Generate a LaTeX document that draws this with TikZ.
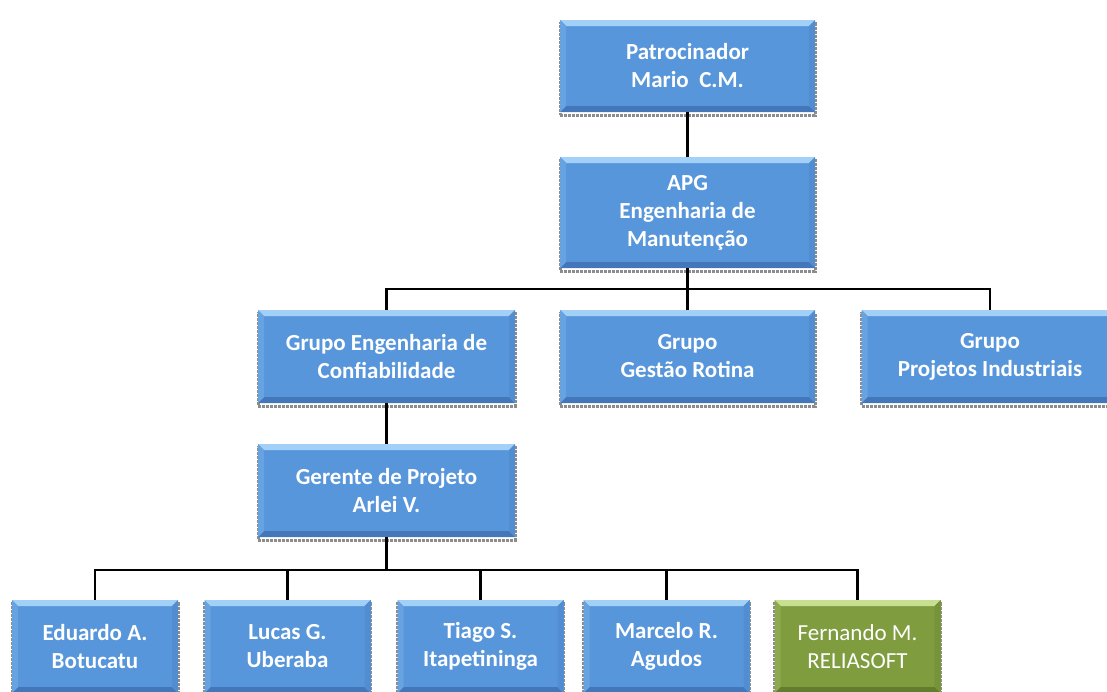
\documentclass[tikz,border=0pt]{standalone}
\usepackage{fontspec}
\setmainfont{Carlito}
\usepackage{tikz}
\usetikzlibrary{calc}
\definecolor{boxblue}{HTML}{5896DC}
\definecolor{boxbluelight}{HTML}{A3D0F6}
\definecolor{boxbluedark}{HTML}{4477BA}
\definecolor{boxgreen}{HTML}{7F9C3F}
\definecolor{boxgreenlight}{HTML}{C7DF90}
\definecolor{boxgreendark}{HTML}{627D2D}
\definecolor{shadowgray}{HTML}{8C8C8C}

% bevelled face, drawn inside the node
\tikzset{
  bevel/.style n args={3}{
    path picture={
      \fill[#2] (path picture bounding box.north west) -- (path picture bounding box.north east)
        -- ([xshift=-6pt,yshift=-6pt]path picture bounding box.north east)
        -- ([xshift=6pt,yshift=-6pt]path picture bounding box.north west) -- cycle;
      \fill[#3] (path picture bounding box.south west) -- (path picture bounding box.south east)
        -- ([xshift=-6pt,yshift=6pt]path picture bounding box.south east)
        -- ([xshift=6pt,yshift=6pt]path picture bounding box.south west) -- cycle;
      \fill[#1!80!#2] (path picture bounding box.north west) -- ([xshift=6pt,yshift=-6pt]path picture bounding box.north west)
        -- ([xshift=6pt,yshift=6pt]path picture bounding box.south west) -- (path picture bounding box.south west) -- cycle;
      \fill[#1!70!#3] (path picture bounding box.north east) -- ([xshift=-6pt,yshift=-6pt]path picture bounding box.north east)
        -- ([xshift=-6pt,yshift=6pt]path picture bounding box.south east) -- (path picture bounding box.south east) -- cycle;
    }
  }
}

\begin{document}
\begin{tikzpicture}[
  x=1pt, y=-1pt,
  orgbox/.style={
    fill=boxblue, bevel={boxblue}{boxbluelight}{boxbluedark},
    preaction={draw=shadowgray, densely dotted, line width=3pt, transform canvas={yshift=-3pt}},
    minimum width=255pt, minimum height=93pt, inner sep=0pt, align=center,
    text=white, font=\fontsize{23}{28}\selectfont\bfseries
  },
  membro/.style={orgbox, minimum width=166pt},
  externo/.style={membro, fill=boxgreen, bevel={boxgreen}{boxgreenlight}{boxgreendark},
    font=\fontsize{23}{28}\selectfont\mdseries},
  conn/.style={draw=black, line width=2.5pt}
]
  \useasboundingbox (0,0) rectangle (1107,691);

  \node[orgbox, minimum height=92pt] (patrocinador) at (687.5,66) {Patrocinador\\Mario~ C.M.};
  \node[orgbox, minimum height=111pt] (apg) at (687.5,212.5) {APG\\Engenharia de\\Manutenção};

  \node[orgbox, minimum width=257pt] (grpconf) at (386.5,356.5) {Grupo Engenharia de\\Confiabilidade};
  \node[orgbox] (grpgestao) at (687.5,356.5) {Grupo\\Gestão Rotina};
  \node[orgbox, minimum width=257pt] (grpproj) at (990,356.5) {Grupo\\Projetos Industriais};

  \node[orgbox, minimum width=257pt] (gerente) at (386.5,490.5) {Gerente de Projeto\\Arlei V.};

  \node[membro] (eduardo) at (95,646.5)  {Eduardo A.\\Botucatu};
  \node[membro] (lucas)   at (287.5,646.5) {Lucas G.\\Uberaba};
  \node[membro] (tiago)   at (480.5,646.5) {Tiago S.\\Itapetininga};
  \node[membro] (marcelo) at (666.5,646.5) {Marcelo R.\\Agudos};
  \node[externo] (fernando) at (857.5,646.5) {Fernando M.\\RELIASOFT};

  \coordinate (barra1) at (687.5,289);
  \coordinate (barra2) at (386.5,570);

  \draw[conn] (patrocinador) -- (apg);
  \draw[conn] (apg) -- (grpgestao);
  \draw[conn] (grpconf.north) |- (barra1) -| (grpproj.north);
  \draw[conn] (grpconf) -- (gerente);
  \draw[conn] (gerente.south) -- (barra2);
  \draw[conn] (eduardo.north) |- (barra2) -| (fernando.north);
  \foreach \m in {lucas, tiago, marcelo}
    \draw[conn] (\m.north) -- (\m.north |- barra2);
\end{tikzpicture}
\end{document}
